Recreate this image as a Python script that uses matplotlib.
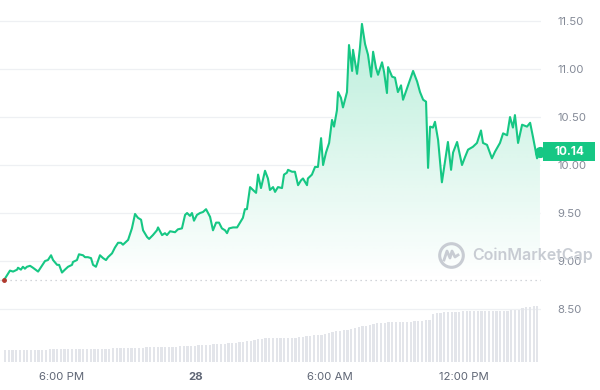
import numpy as np
import matplotlib
matplotlib.use('Agg')
import matplotlib.pyplot as plt
import matplotlib.transforms as mtransforms
from matplotlib.colors import to_rgb
from matplotlib.lines import Line2D
from matplotlib.patches import PathPatch, Rectangle

plt.rcParams['font.family'] = ['Inter', 'DejaVu Sans']

# time in hours counted from midnight of the 27th (24 = midnight of the 28th)
hours = [15.40, 15.67, 15.81, 15.99, 16.03, 16.16, 16.25, 16.34, 16.43, 16.57,
         16.70, 16.93, 17.10, 17.24, 17.37, 17.51, 17.60, 17.78, 17.87, 18.00,
         18.13, 18.27, 18.45, 18.49, 18.67, 18.76, 18.94, 19.03, 19.16, 19.30,
         19.39, 19.52, 19.61, 19.70, 19.84, 19.97, 20.06, 20.24, 20.37, 20.51,
         20.64, 20.73, 20.87, 20.96, 21.13, 21.27, 21.40, 21.54, 21.63, 21.81,
         21.90, 22.07, 22.25, 22.30, 22.48, 22.61, 22.70, 22.84, 23.06, 23.19,
         23.37, 23.51, 23.60, 23.73, 23.82, 23.91, 24.04, 24.18, 24.31, 24.45,
         24.63, 24.76, 24.90, 25.03, 25.16, 25.30, 25.39, 25.48, 25.66, 25.84,
         25.97, 26.10, 26.19, 26.28, 26.42, 26.55, 26.69, 26.78, 26.91, 27.09,
         27.22, 27.31, 27.45, 27.54, 27.67, 27.85, 27.94, 28.07, 28.12, 28.30,
         28.43, 28.57, 28.70, 28.79, 28.97, 29.01, 29.19, 29.33, 29.46, 29.60,
         29.69, 29.82, 29.96, 30.09, 30.18, 30.31, 30.36, 30.49, 30.58, 30.76,
         30.85, 30.99, 31.03, 31.21, 31.34, 31.43, 31.57, 31.70, 31.84, 31.93,
         32.06, 32.15, 32.33, 32.42, 32.55, 32.60, 32.78, 32.91, 33.04, 33.18,
         33.27, 33.45, 33.58, 33.72, 33.90, 34.03, 34.17, 34.30, 34.39, 34.48,
         34.61, 34.70, 34.84, 35.01, 35.15, 35.28, 35.42, 35.51, 35.69, 35.91,
         36.04, 36.18, 36.40, 36.58, 36.76, 36.85, 37.03, 37.25, 37.39, 37.61,
         37.75, 37.93, 38.06, 38.19, 38.28, 38.42, 38.60, 38.82, 38.96, 39.09,
         39.27, 39.40]

price = [8.80, 8.90, 8.89, 8.91, 8.93, 8.91, 8.94, 8.92, 8.94, 8.95,
         8.93, 8.89, 8.95, 9.00, 9.01, 9.06, 9.01, 8.96, 8.96, 8.88,
         8.91, 8.94, 8.96, 8.99, 9.01, 9.07, 9.06, 9.04, 9.04, 9.03,
         8.96, 8.94, 9.00, 9.06, 9.03, 9.01, 9.04, 9.08, 9.14, 9.19,
         9.19, 9.17, 9.20, 9.22, 9.34, 9.49, 9.45, 9.43, 9.32, 9.25,
         9.23, 9.27, 9.32, 9.35, 9.27, 9.29, 9.27, 9.31, 9.30, 9.33,
         9.34, 9.48, 9.50, 9.47, 9.50, 9.42, 9.48, 9.50, 9.51, 9.54,
         9.46, 9.32, 9.40, 9.40, 9.34, 9.32, 9.29, 9.34, 9.35, 9.35,
         9.40, 9.45, 9.54, 9.54, 9.77, 9.74, 9.71, 9.90, 9.76, 9.94,
         9.86, 9.74, 9.77, 9.72, 9.77, 9.76, 9.90, 9.92, 9.95, 9.93,
         9.93, 9.79, 9.84, 9.86, 9.79, 9.86, 9.90, 9.98, 9.98, 10.28,
         10.00, 10.13, 10.23, 10.47, 10.40, 10.57, 10.76, 10.70, 10.60, 10.76,
         11.25, 10.98, 11.20, 10.95, 11.22, 11.47, 11.26, 11.15, 10.92, 11.18,
         11.01, 10.94, 11.07, 10.97, 10.75, 11.02, 10.92, 10.91, 10.76, 10.83,
         10.68, 10.80, 10.89, 10.98, 10.87, 10.76, 10.68, 10.66, 9.97, 10.40,
         10.39, 10.45, 10.26, 9.82, 10.04, 10.24, 9.95, 10.13, 10.24, 10.00,
         10.08, 10.16, 10.19, 10.23, 10.36, 10.23, 10.21, 10.07, 10.14, 10.23,
         10.33, 10.31, 10.50, 10.39, 10.52, 10.23, 10.42, 10.40, 10.44, 10.29,
         10.07, 10.14]

# 24h volume bars, one every 10 minutes (arbitrary units, $M)
vol_start = 15.40
vol_step = 1 / 6
volume = [120, 120, 121, 121, 122, 122, 123, 123, 124, 124, 125, 125,
          126, 126, 127, 127, 128, 128, 129, 129, 130, 130, 131, 131,
          132, 133, 134, 134, 135, 136, 140, 140, 141, 141, 142, 142,
          145, 145, 146, 146, 147, 147, 148, 150, 152, 153, 155, 156,
          158, 160, 162, 165, 167, 170, 172, 175, 178, 180, 183, 185,
          190, 192, 195, 200, 205, 210, 215, 220, 228, 232, 236, 240,
          240, 241, 241, 242, 242, 243, 245, 248, 252, 258, 262, 266,
          270, 275, 285, 295, 305, 310, 315, 320, 325, 330, 340, 350,
          360, 365, 370, 380, 390, 392, 395, 398, 400, 400, 402, 402,
          405, 405, 408, 410, 412, 418, 420, 480, 490, 495, 498, 500,
          505, 505, 505, 508, 508, 508, 510, 510, 510, 510, 510, 510,
          512, 512, 515, 515, 518, 520, 522, 540, 550, 555, 560, 560]

yticks = [8.5, 9.0, 9.5, 10.0, 10.5, 11.0, 11.5]
xticks = [18, 24, 30, 36]
xlabels = ['6:00 PM', '28', '6:00 AM', '12:00 PM']

GREEN = '#16c784'
W, H = 600, 390


def fx(px):
    return px / W


def fy(py):
    return 1 - py / H


def main():
    fig = plt.figure(figsize=(6, 3.9), dpi=100)
    ax = fig.add_axes([0, 28 / H, 541 / W, 357 / H])
    ax2 = ax.twinx()

    x = np.array(hours)
    y = np.array(price)
    base = price[0]

    # area: white under-fill hides the grid, then a fading green gradient
    poly = ax.fill_between(x, y, base, color='white', lw=0, zorder=1)
    clip = PathPatch(poly.get_paths()[0], transform=ax.transData,
                     fc='none', ec='none')
    ax.add_patch(clip)
    rgba = np.zeros((256, 1, 4))
    rgba[..., :3] = to_rgb(GREEN)
    rgba[..., 3] = np.linspace(0.30, 0.0, 256).reshape(-1, 1)
    img = ax.imshow(rgba, extent=[x[0], x[-1], base, 11.5], aspect='auto',
                    origin='upper', zorder=1.5, interpolation='bilinear')
    img.set_clip_path(clip)

    ax.axhline(base, color='#c4c8cf', lw=0.9, ls=(0, (1, 3)), zorder=2)
    ax.plot(x, y, color=GREEN, lw=1.5, zorder=3, solid_joinstyle='round')
    ax.plot(x[0], y[0], 'o', ms=2.5, color='#b03a2e', zorder=4)
    ax.plot(x[-1], y[-1], 'o', ms=7, color=GREEN, zorder=4, clip_on=False)

    ax.set_xlim(15.224, 39.447)
    ax.set_ylim(7.948, 11.667)
    ax.set_yticks(yticks)
    ax.set_yticklabels(['%.2f' % v for v in yticks])
    ax.yaxis.tick_right()
    ax.set_xticks(xticks, xlabels)
    ax.get_xticklabels()[1].set_fontweight('bold')
    ax.tick_params(axis='y', length=0, pad=12, labelsize=8.2,
                   labelcolor='#858b98')
    ax.tick_params(axis='x', length=0, pad=7, labelsize=8.2,
                   labelcolor='#5f6675')
    ax.grid(axis='y', color='#eef0f3', lw=0.9)
    ax.set_axisbelow(True)
    for s in ax.spines.values():
        s.set_visible(False)

    # volume
    vt = vol_start + vol_step * np.arange(len(volume))
    ax2.bar(vt, volume, width=0.1, color='#e3e5ea', lw=0, align='edge')
    ax2.set_ylim(0, 3570)
    ax2.axis('off')

    # last price badge
    trans = mtransforms.blended_transform_factory(ax.transAxes, ax.transData)
    last = price[-1]
    ax.add_patch(Rectangle((543 / 541, last - 0.094), 52 / 541, 0.19,
                           transform=trans, fc=GREEN, ec='none',
                           clip_on=False, zorder=5))
    ax.text(569 / 541, last, '%.2f' % last, transform=trans, color='white',
            fontsize=8.5, fontweight='bold', ha='center', va='center',
            zorder=6, clip_on=False)

    # watermark
    wm = '#c8ccd3'
    fig.add_artist(Line2D([fx(451)], [fy(255)], marker='o', ms=17,
                          mfc='none', mec=wm, mew=2.2))
    lx = [444, 447, 450, 452, 455, 458]
    ly = [260, 251, 258, 251, 257, 255]
    fig.add_artist(Line2D([fx(v) for v in lx], [fy(v) for v in ly],
                          color=wm, lw=2, solid_joinstyle='round'))
    fig.text(fx(472), fy(255), 'CoinMarketCap', color=wm, fontsize=11.5,
             fontweight='semibold', ha='left', va='center')

    fig.savefig('out.png', dpi=100)


if __name__ == '__main__':
    main()
